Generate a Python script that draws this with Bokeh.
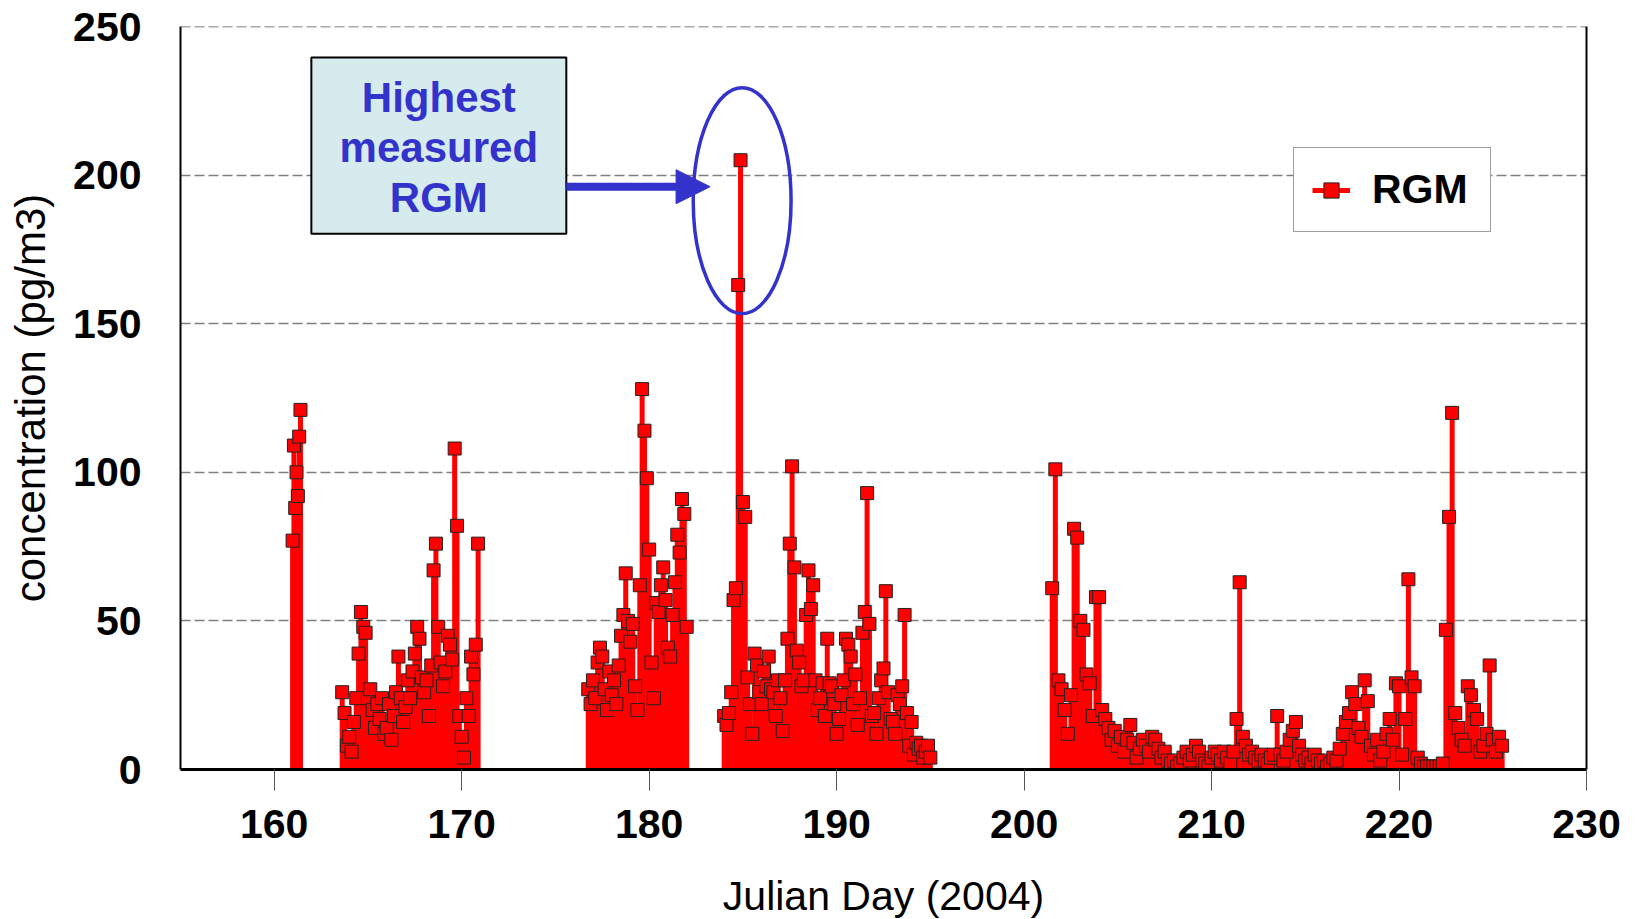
from bokeh.plotting import figure
from bokeh.models import (Range1d, LinearAxis, FixedTicker, Legend, LegendItem,
                          Arrow, NormalHead, Span)
from bokeh.core.properties import value
from bokeh.embed import file_html
from bokeh.resources import INLINE

# ---------------- data (RGM concentration, pg/m3) ----------------
# each measurement period: first Julian day, sampling step (days), values
a_start, a_step = 160.98, 0.07
a_vals = [77, 109, 88, 100, 92, 112, 121]

b_start, b_step = 163.625, 0.125
b_vals = [26, 19, 8, 11, 6, 16, 24, 39, 53, 48, 46, 24, 27, 20, 14, 22, 17, 24,
          12, 14, 22, 10, 18, 26, 38, 24, 16, 21, 30, 24, 33, 39, 48, 44, 31, 26,
          30, 18, 35, 67, 76, 48, 36, 28, 33, 45, 42, 37, 108, 82, 18, 11, 4, 24,
          18, 38, 32, 42, 76]

c_start, c_step = 176.75, 0.125
c_vals = [27, 22, 30, 24, 36, 41, 38, 27, 20, 33, 25, 30, 22, 35, 45, 52, 66,
          50, 43, 49, 28, 20, 62, 128, 114, 98, 74, 36, 24, 56, 53, 62, 68, 57,
          41, 38, 52, 63, 79, 73, 91, 86, 48]

d_start, d_step = 184.0, 0.125
d_vals = [18, 15, 19, 26, 57, 61, 163, 205, 90, 85, 31, 22, 12, 39, 35, 26, 22,
          33, 28, 38, 27, 26, 18, 30, 24, 13, 30, 44, 76, 102, 68, 40, 36, 28,
          30, 52, 67, 54, 62, 30, 20, 24, 29, 18, 44, 29, 28, 22, 12, 17, 25, 30,
          44, 42, 38, 22, 32, 15, 24, 46, 53, 93, 49, 18, 19, 12, 24, 30, 34, 60,
          26, 17, 16, 12, 25, 22, 28, 52, 19, 8, 16, 5, 9, 7, 8, 4, 6, 8, 4]

e_start, e_step = 201.5, 1.0 / 6.0
e_vals = [61, 101, 30, 27, 20, 12, 25, 81, 78, 50, 47, 32, 29, 18, 58, 58, 20,
          17, 14, 10, 13, 8, 11, 6, 10, 15, 9, 4, 7, 10, 8, 6, 11, 10, 7, 4, 6,
          3, 2, 3, 1, 2, 4, 6, 3, 5, 8, 6, 3, 2, 1, 4, 6, 5, 3, 6, 4, 2, 6, 17,
          63, 11, 8, 5, 6, 4, 3, 5, 3, 2, 4, 5, 18, 5, 3, 6, 10, 13, 16, 8, 5, 3,
          4, 2, 5, 3, 2, 3, 1, 2, 4, 3, 7, 12, 16, 19, 26, 22, 14, 11, 30, 23, 8,
          5, 10, 3, 6, 12, 17, 10, 29, 28, 5, 17, 64, 31, 28, 4, 2, 1, 1, 1, 1,
          1, 1, 2, 47, 85, 120, 19, 14, 10, 8, 28, 25, 20, 17, 6, 8, 12, 35, 10,
          6, 11, 8]

periods = [(a_start, a_step, a_vals), (b_start, b_step, b_vals),
           (c_start, c_step, c_vals), (d_start, d_step, d_vals),
           (e_start, e_step, e_vals)]

x_ticks = [160, 170, 180, 190, 200, 210, 220, 230]
y_ticks = [0, 50, 100, 150, 200, 250]

# ---------------- build series ----------------
days, conc = [], []
for start, step, vals in periods:
    for i, v in enumerate(vals):
        days.append(start + i * step)
        conc.append(v)

RED = "#FF0000"
BLUE = "#3333CC"
FONT = "Liberation Sans"

p = figure(frame_width=1406, frame_height=743,
           min_border_left=180, min_border_right=49,
           min_border_top=26, min_border_bottom=150,
           x_range=Range1d(155, 230), y_range=Range1d(0, 250),
           output_backend="svg", toolbar_location=None,
           background_fill_color="white", border_fill_color="white")
p.outline_line_color = None

# grid
p.xgrid.visible = False
p.ygrid.ticker = FixedTicker(ticks=y_ticks)
p.ygrid.grid_line_color = "#7F7F7F"
p.ygrid.grid_line_width = 1.5
p.ygrid.grid_line_dash = "10 4"
p.add_layout(Span(location=250, dimension="width", line_color="#555555",
                  line_width=1.5, line_dash="10 4"))

# axes
p.yaxis.ticker = FixedTicker(ticks=y_ticks)
p.xaxis.ticker = FixedTicker(ticks=x_ticks)
for ax in (p.xaxis[0], p.yaxis[0]):
    ax.axis_line_color = "black"
    ax.major_label_text_font = FONT
    ax.major_label_text_font_style = "bold"
    ax.major_label_text_font_size = "41px"
    ax.major_label_text_color = "black"
    ax.axis_label_text_font = FONT
    ax.axis_label_text_font_style = "normal"
    ax.axis_label_text_color = "black"
    ax.minor_tick_line_color = None

p.yaxis.axis_label = "concentration (pg/m3)"
p.yaxis.axis_label_text_font_size = "42px"
p.yaxis.axis_line_width = 2
p.yaxis.major_tick_line_color = None
p.yaxis.major_label_standoff = 33
p.yaxis.axis_label_standoff = 16

p.xaxis.axis_label = "Julian Day (2004)"
p.xaxis.axis_label_text_font_size = "41px"
p.xaxis.axis_line_width = 3
p.xaxis.major_tick_in = 0
p.xaxis.major_tick_out = 21
p.xaxis.major_tick_line_color = "#555555"
p.xaxis.major_tick_line_width = 1
p.xaxis.major_label_standoff = 19
p.xaxis.axis_label_standoff = 32

right = LinearAxis(ticker=FixedTicker(ticks=[]), axis_line_color="black",
                   axis_line_width=2, major_tick_line_color=None,
                   minor_tick_line_color=None, major_label_text_font_size="0px")
p.add_layout(right, "right")

# data marks: drop line from each sample to zero, square marker on top
seg_r = p.segment(x0=days, y0=[0] * len(conc), x1=days, y1=conc,
                  line_color=RED, line_width=5)
scat_r = p.scatter(days, conc, marker="square", size=13, fill_color=RED,
                   line_color="#222222", line_width=1)

# annotation: box, text, arrow, ellipse
box_l, box_r, box_b, box_t = 161.98, 175.58, 180.3, 239.6
p.quad(left=[box_l], right=[box_r], bottom=[box_b], top=[box_t],
       fill_color="#D6EBEE", line_color="black", line_width=2)
p.text(x=[168.78] * 3, y=[226.1, 209.3, 192.4],
       text=["Highest", "measured", "RGM"],
       text_font=value(FONT), text_font_style="bold", text_font_size="42px",
       text_color=BLUE, text_align="center", text_baseline="middle")
p.add_layout(Arrow(end=NormalHead(size=34, fill_color=BLUE, line_color=BLUE),
                   x_start=box_r, y_start=196.1, x_end=183.25, y_end=196.1,
                   line_color=BLUE, line_width=8))
p.ellipse(x=[184.96], y=[191.4], width=5.22, height=76.1,
          fill_color=None, line_color=BLUE, line_width=3.5)

# legend
legend = Legend(items=[LegendItem(label="RGM", renderers=[seg_r, scat_r])],
                location=(1113, 537),
                label_text_font=FONT, label_text_font_style="bold",
                label_text_font_size="41px", label_text_color="black",
                glyph_width=38, glyph_height=40, label_standoff=22,
                label_width=100,
                padding=18, margin=0, spacing=0,
                border_line_color="#404040", border_line_width=1.5,
                background_fill_color="white", background_fill_alpha=1.0)
p.add_layout(legend)

open("out.html", "w").write(file_html(p, INLINE))
